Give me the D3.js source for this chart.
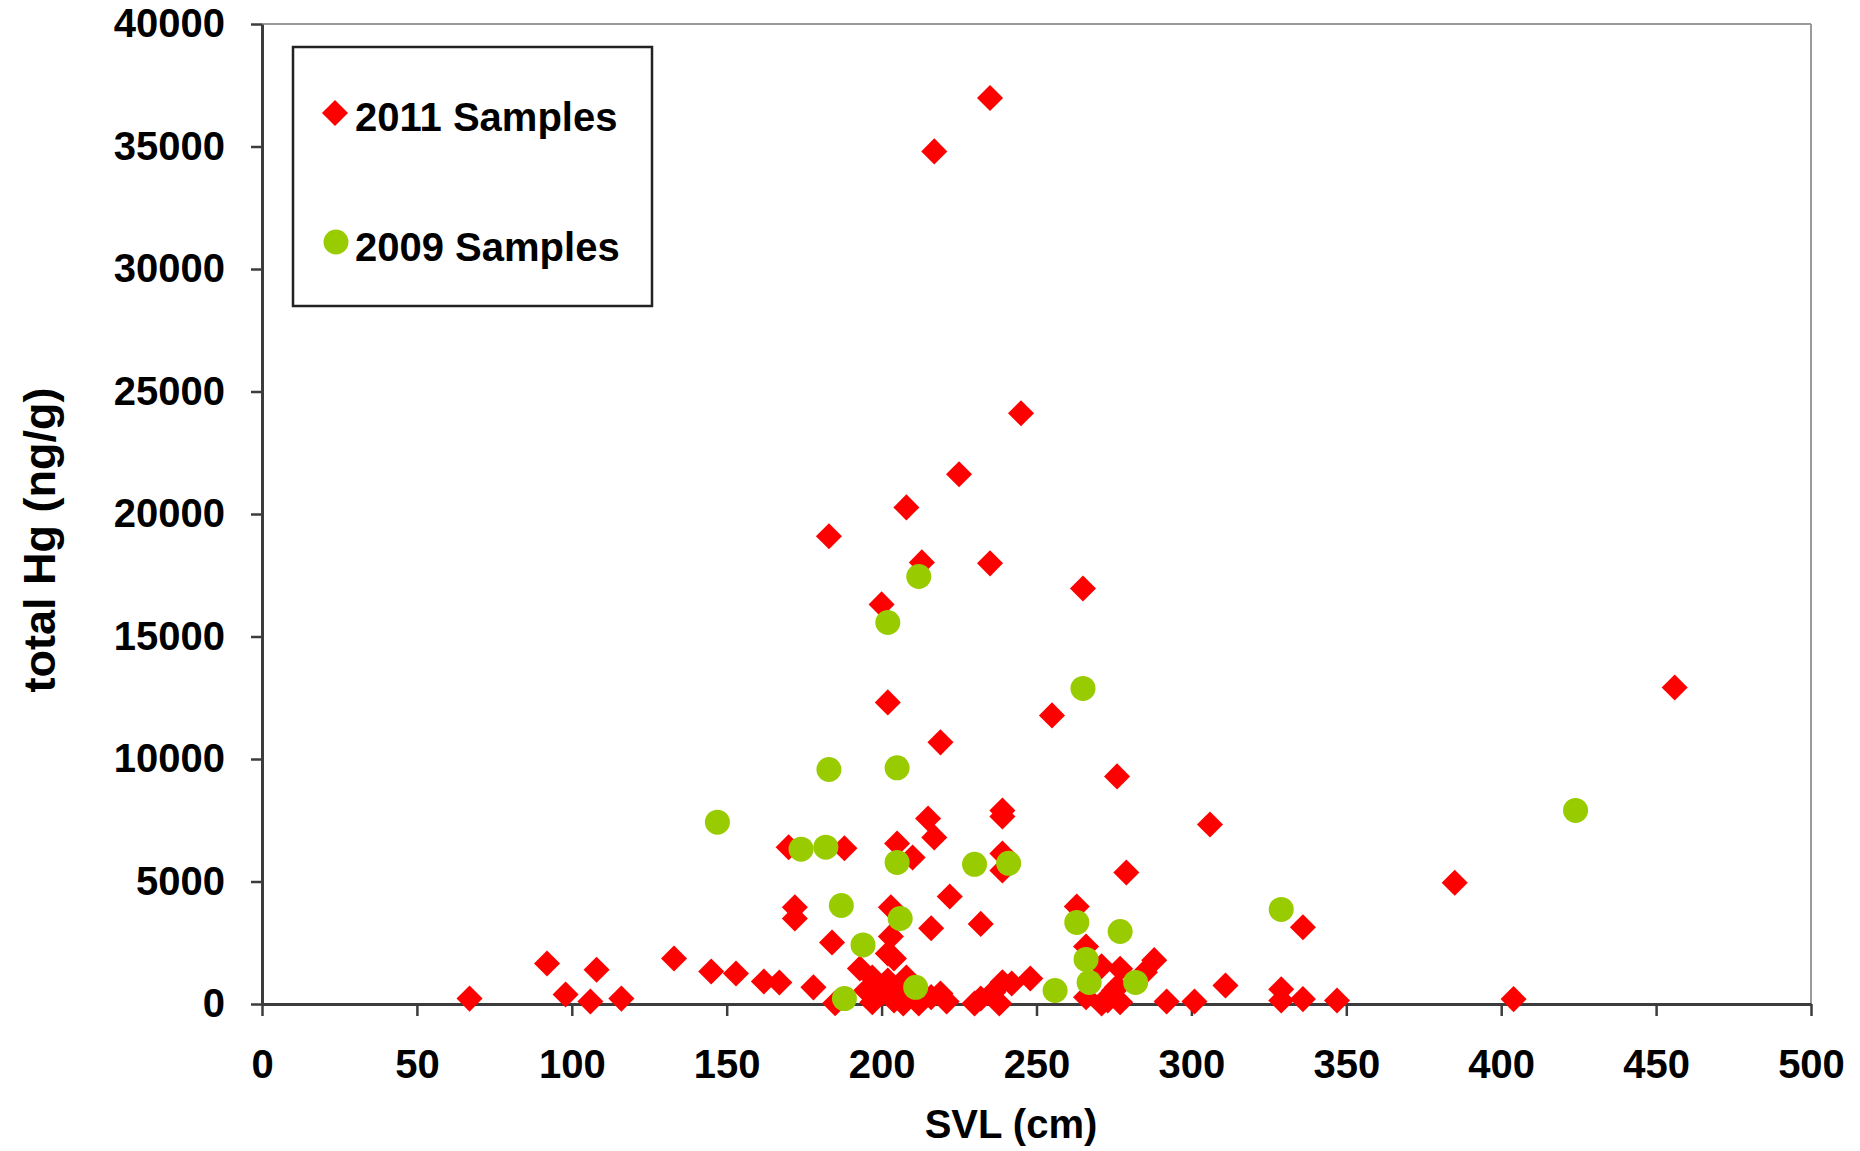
<!DOCTYPE html>
<html>
<head>
<meta charset="utf-8">
<script src="https://cdn.jsdelivr.net/npm/d3@7"></script>
<style>
  body { margin: 0; background: #fff; }
  text { font-family: "Liberation Sans", Arial, sans-serif; font-weight: bold; }
</style>
</head>
<body>
<div id="chart"></div>
<script>
// 2011 samples (red diamonds)
var svl2011 = [67, 92, 98, 108, 106, 116, 133, 145, 153, 162,
  167, 178, 185, 170, 172, 172, 184, 183, 188, 200,
  202, 208, 213, 225, 217, 235, 245, 235, 265, 255,
  219, 456, 276, 239, 239, 306, 205, 215, 217, 210,
  239, 239, 279, 385, 222, 203, 263, 336, 232, 216,
  203, 266, 202, 288, 277, 285, 271, 193, 204, 248,
  311, 329, 329, 336, 347, 404, 292, 301, 197, 202,
  195, 200, 208, 206, 204, 197, 216, 219, 212, 207,
  239, 236, 232, 230, 238, 242, 266, 276, 271, 277,
  275, 273, 221];
var hg2011 = [220, 1650, 390, 1400, 100, 220, 1860, 1330, 1245, 920,
  880, 680, 30, 6400, 3950, 3490, 2510, 19090, 6360, 16310,
  12310, 20270, 18025, 21620, 34800, 36980, 24110, 17985, 16960, 11780,
  10680, 12920, 9290, 7900, 7650, 7330, 6550, 7570, 6800, 5980,
  6140, 5450, 5370, 4950, 4390, 3950, 3980, 3130, 3270, 3090,
  2760, 2350, 2060, 1790, 1440, 1300, 1540, 1450, 1860, 1040,
  755, 600, 143, 200, 143, 200, 100, 100, 1080, 960,
  550, 430, 1080, 550, 143, 70, 280, 430, 20, 20,
  890, 480, 224, 20, 20, 840, 280, 690, 20, 73,
  550, 143, 100];

// 2009 samples (green circles)
var svl2009 = [147, 183, 205, 174, 182, 205, 187, 206, 194, 188,
  212, 202, 265, 230, 241, 263, 277, 266, 267, 282,
  256, 329, 424, 211];
var hg2009 = [7420, 9570, 9640, 6320, 6400, 5780, 4020, 3490, 2410, 220,
  17450, 15570, 12880, 5700, 5740, 3330, 2960, 1820, 880, 880,
  550, 3860, 7900, 680];

var xTicks = [0, 50, 100, 150, 200, 250, 300, 350, 400, 450, 500];
var yTicks = [0, 5000, 10000, 15000, 20000, 25000, 30000, 35000, 40000];
var seriesNames = ["2011 Samples", "2009 Samples"];

var W = 1860, H = 1151;
var margin = { top: 24, right: 49, bottom: 147, left: 262 };
var w = W - margin.left - margin.right,
    h = H - margin.top - margin.bottom;

var svg = d3.select("#chart").append("svg")
  .attr("width", W)
  .attr("height", H);

var g = svg.append("g")
  .attr("transform", "translate(" + margin.left + "," + margin.top + ")");

var x = d3.scaleLinear().domain([0, 500]).range([0, w]);
var y = d3.scaleLinear().domain([0, 40000]).range([h, 0]);

// plot frame: top and right edges are light grey
g.append("line").attr("x1", 0).attr("x2", w).attr("y1", 0).attr("y2", 0)
  .style("stroke", "#9a9a9a").style("stroke-width", 2);
g.append("line").attr("x1", w).attr("x2", w).attr("y1", 0).attr("y2", h)
  .style("stroke", "#9a9a9a").style("stroke-width", 2);

var xAxis = g.append("g")
  .attr("transform", "translate(0," + h + ")")
  .call(d3.axisBottom(x).tickValues(xTicks).tickFormat(d3.format("d"))
    .tickSize(12).tickPadding(34).tickSizeOuter(0));

var yAxis = g.append("g")
  .call(d3.axisLeft(y).tickValues(yTicks).tickFormat(d3.format("d"))
    .tickSize(11).tickPadding(26).tickSizeOuter(0));

[xAxis, yAxis].forEach(function (a) {
  a.select(".domain").style("stroke", "#3c3c3c").style("stroke-width", 3);
  a.selectAll(".tick line").style("stroke", "#3c3c3c").style("stroke-width", 2.5);
  a.selectAll(".tick text").style("font-size", "40px").style("fill", "#000")
    .style("font-family", "'Liberation Sans', Arial, sans-serif").style("font-weight", "bold");
});

// axis titles
svg.append("text")
  .attr("x", 1011)
  .attr("y", 1138)
  .style("text-anchor", "middle")
  .style("font-size", "40px")
  .text("SVL (cm)");

svg.append("text")
  .attr("transform", "translate(55,540) rotate(-90)")
  .style("text-anchor", "middle")
  .style("font-size", "45px")
  .text("total Hg (ng/g)");

var diamond = d3.symbol().type(d3.symbolSquare).size(340);

var pts2011 = svl2011.map(function (v, i) { return { x: v, y: hg2011[i] }; });
var pts2009 = svl2009.map(function (v, i) { return { x: v, y: hg2009[i] }; });

g.append("g").selectAll("path")
  .data(pts2011).enter().append("path")
  .attr("d", diamond)
  .attr("transform", function (d) {
    return "translate(" + x(d.x) + "," + y(d.y) + ") rotate(45)";
  })
  .style("fill", "#ff0000");

g.append("g").selectAll("circle")
  .data(pts2009).enter().append("circle")
  .attr("cx", function (d) { return x(d.x); })
  .attr("cy", function (d) { return y(d.y); })
  .attr("r", 12.5)
  .style("fill", "#99cc00");

// legend
var legend = svg.append("g");
legend.append("rect")
  .attr("x", 293).attr("y", 47)
  .attr("width", 359).attr("height", 259)
  .style("fill", "#fff")
  .style("stroke", "#222")
  .style("stroke-width", 2.5);

legend.append("path")
  .attr("d", diamond)
  .attr("transform", "translate(335,113) rotate(45)")
  .style("fill", "#ff0000");
legend.append("circle")
  .attr("cx", 336).attr("cy", 242).attr("r", 12.5)
  .style("fill", "#99cc00");

legend.selectAll("text.lab")
  .data(seriesNames).enter().append("text")
  .attr("class", "lab")
  .attr("x", 355)
  .attr("y", function (d, i) { return i === 0 ? 131 : 261; })
  .style("font-size", "40px")
  .text(function (d) { return d; });
</script>
</body>
</html>
